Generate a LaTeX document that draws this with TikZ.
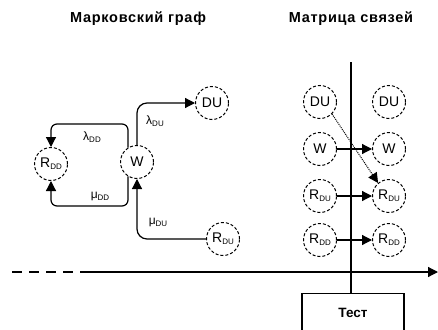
\documentclass[tikz,border=0pt]{standalone}
\usepackage{fontspec}
\setmainfont{Liberation Sans}
\usetikzlibrary{arrows.meta}
\newcommand{\sbs}[1]{\raisebox{-2pt}{\fontsize{8}{8}\selectfont #1}}
\tikzset{
  st/.style={circle, draw, densely dashed, line width=1pt, minimum size=33pt, inner sep=0pt, font=\fontsize{14}{15}\selectfont},
  arr/.style={-{Triangle[length=10pt,width=10pt]}, line width=1.2pt},
  lab/.style={font=\fontsize{12}{13}\selectfont, inner sep=1pt},
  ttl/.style={font=\bfseries\fontsize{14.5}{16}\selectfont\addfontfeature{LetterSpace=5}}
}
\begin{document}
\begin{tikzpicture}[x=1pt,y=-1pt]
\useasboundingbox (0,0) rectangle (438,329);
\node[ttl] (t1) at (138,19) {Марковский граф};
\node[ttl] (t2) at (351,19) {Матрица связей};
% Markov graph
\node[st] (rdd) at (51,164) {R\sbs{DD}};
\node[st] (w) at (137,162) {W};
\node[st] (du) at (212,103) {DU};
\node[st] (rdu) at (223,239) {R\sbs{DU}};
\draw[arr, rounded corners=6pt] (w.122) |- (rdd.north |- 0,124) -- (rdd.north);
\draw[arr, rounded corners=6pt] (w.238) |- (rdd.south |- 0,206) -- (rdd.south);
\draw[arr, rounded corners=10pt] (w.north) |- (du.west);
\draw[arr, rounded corners=10pt] (rdu.west) -| (w.south);
\node[lab] (l1) at (92,137) {λ\sbs{DD}};
\node[lab] (l2) at (100,196) {μ\sbs{DD}};
\node[lab] (l3) at (155,121) {λ\sbs{DU}};
\node[lab] (l4) at (158,222) {μ\sbs{DU}};
% matrix
\node[st] (a1) at (320,102) {DU};
\node[st] (a2) at (320,149) {W};
\node[st] (a3) at (320,196) {R\sbs{DU}};
\node[st] (a4) at (320,240) {R\sbs{DD}};
\node[st] (b1) at (389,102) {DU};
\node[st] (b2) at (389,149) {W};
\node[st] (b3) at (389,196) {R\sbs{DU}};
\node[st] (b4) at (389,240) {R\sbs{DD}};
\draw[arr] (a2) -- (b2);
\draw[arr] (a3) -- (b3);
\draw[arr] (a4) -- (b4);
\draw[arr, line width=1pt, densely dotted] (a1.-45) -- (b3.130);
% timeline
\coordinate (s0) at (12,272);
\coordinate (s1) at (85,272);
\coordinate (s2) at (438,272);
\draw[line width=1.2pt, dash pattern=on 10pt off 7pt] (s0) -- (s1);
\draw[arr] (s1) -- (s2);
\node[draw, line width=1.2pt, minimum width=102pt, minimum height=50pt, anchor=north] (test) at (353,293) {};
\node[font=\bfseries\fontsize{13.5}{14}\selectfont] (tt) at (353,313) {Тест};
\coordinate (v0) at (351,62);
\draw[line width=1.2pt] (v0) -- (v0 |- test.north);
\end{tikzpicture}
\end{document}
